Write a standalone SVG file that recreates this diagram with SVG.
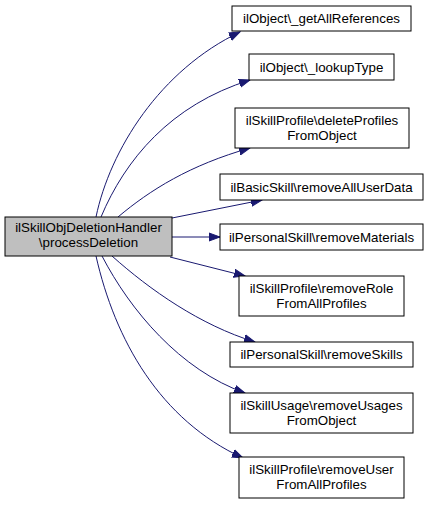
<svg xmlns="http://www.w3.org/2000/svg" width="429" height="505" viewBox="0 0 429 505">
<style>
.n rect{fill:#fff;stroke:#000;stroke-width:1}
.n.cur rect{fill:#bfbfbf;stroke:#000}
text{font-family:"Liberation Sans",Arial,sans-serif;font-size:13.33px;text-anchor:middle;fill:#000}
.e path{fill:none;stroke:#191970;stroke-width:1;marker-end:url(#ah)}
</style>
<defs>
<marker id="ah" markerUnits="userSpaceOnUse" markerWidth="12" markerHeight="10" refX="11" refY="4" orient="auto" viewBox="0 0 12 8">
<polygon points="0,0 11,4 0,8" fill="#191970" stroke="#191970"/>
</marker>
</defs>
<rect width="429" height="505" fill="#fff"/>
<g id="edges" class="e">
<path d="M96,217 C110,150 160,70 240,32"/>
<path d="M101,217 C125,160 170,105 250,80"/>
<path d="M118,217 C150,190 190,165 250,148"/>
<path d="M172,218 L262,200"/>
<path d="M172,237 L220,237"/>
<path d="M170,257 L245,276"/>
<path d="M112,256 C150,290 200,325 255,342"/>
<path d="M102,256 C130,310 180,370 245,393"/>
<path d="M96,256 C115,340 160,420 243,458"/>
</g>
<g id="main" class="n cur"><rect x="5" y="217" width="167" height="39"/><text x="88.5" y="232">ilSkillObjDeletionHandler</text><text x="88.5" y="247">\processDeletion</text></g>
<g id="n1" class="n"><rect x="232" y="6" width="179" height="25"/><text x="321.5" y="23">ilObject\_getAllReferences</text></g>
<g id="n2" class="n"><rect x="249" y="54" width="145" height="26"/><text x="321.5" y="71.5">ilObject\_lookupType</text></g>
<g id="n3" class="n"><rect x="235" y="108" width="174" height="40"/><text x="322" y="124.5">ilSkillProfile\deleteProfiles</text><text x="322" y="139.5">FromObject</text></g>
<g id="n4" class="n"><rect x="220" y="174" width="203" height="26"/><text x="321.5" y="191.5">ilBasicSkill\removeAllUserData</text></g>
<g id="n5" class="n"><rect x="220" y="224" width="203" height="26"/><text x="321.5" y="241.5">ilPersonalSkill\removeMaterials</text></g>
<g id="n6" class="n"><rect x="239" y="276" width="165" height="40"/><text x="321.5" y="292.5">ilSkillProfile\removeRole</text><text x="321.5" y="307.5">FromAllProfiles</text></g>
<g id="n7" class="n"><rect x="230" y="342" width="183" height="25"/><text x="321.5" y="359">ilPersonalSkill\removeSkills</text></g>
<g id="n8" class="n"><rect x="230" y="393" width="183" height="40"/><text x="321.5" y="409.5">ilSkillUsage\removeUsages</text><text x="321.5" y="424.5">FromObject</text></g>
<g id="n9" class="n"><rect x="239" y="457" width="165" height="41"/><text x="321.5" y="473.5">ilSkillProfile\removeUser</text><text x="321.5" y="488.5">FromAllProfiles</text></g>
</svg>
